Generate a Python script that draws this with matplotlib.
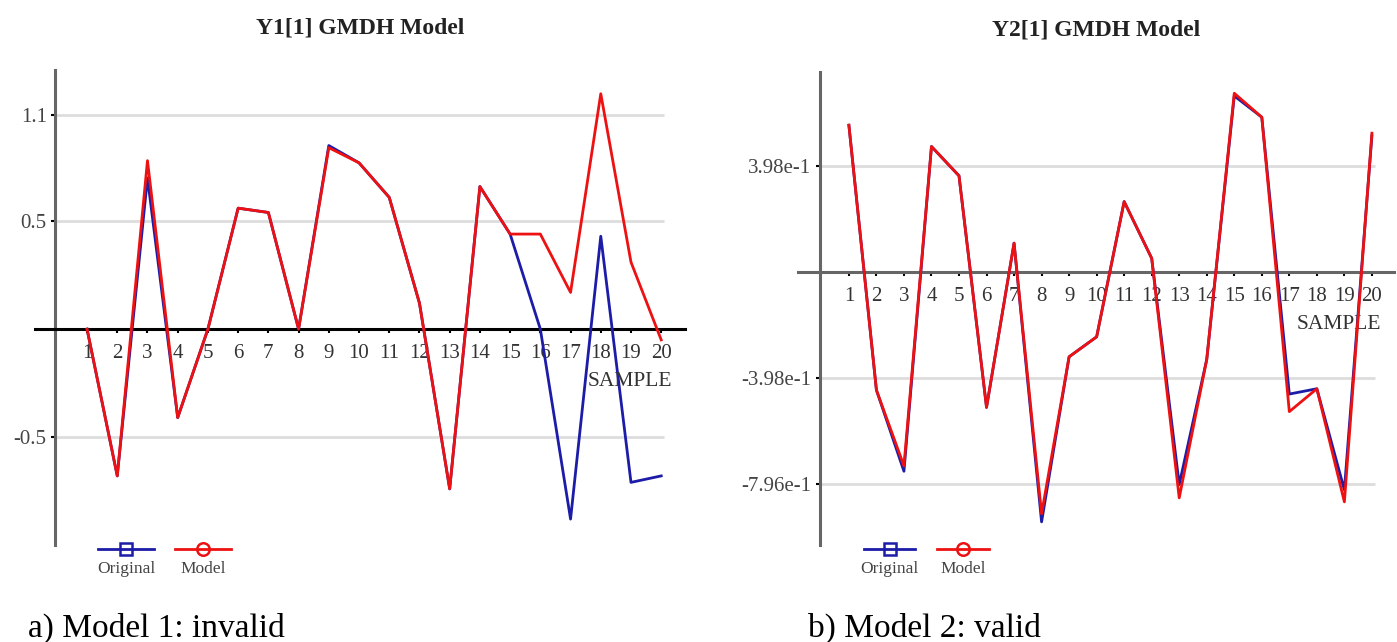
import matplotlib
matplotlib.use('Agg')
import matplotlib.pyplot as plt

plt.rcParams['font.family'] = ['Liberation Serif', 'DejaVu Serif']

samples = list(range(1, 21))

# panel a) Y1[1]
original1 = [0.0, -0.68, 0.70, -0.41, 0.0, 0.56, 0.54, 0.0, 0.85, 0.77,
             0.61, 0.12, -0.74, 0.66, 0.44, 0.0, -0.88, 0.43, -0.71, -0.68]
model1 = [0.0, -0.68, 0.78, -0.41, 0.0, 0.56, 0.54, 0.0, 0.84, 0.77,
          0.61, 0.12, -0.74, 0.66, 0.44, 0.44, 0.17, 1.09, 0.31, -0.05]
yticks1 = [0.99, 0.5, -0.5]
ylabels1 = ['1.1', '0.5', '-0.5']

# panel b) Y2[1]
original2 = [0.55, -0.445, -0.75, 0.47, 0.36, -0.51, 0.107, -0.94, -0.32, -0.245,
             0.263, 0.05, -0.80, -0.33, 0.66, 0.58, -0.46, -0.44, -0.82, 0.51]
model2 = [0.55, -0.445, -0.73, 0.47, 0.36, -0.51, 0.107, -0.91, -0.32, -0.245,
          0.263, 0.05, -0.85, -0.33, 0.67, 0.58, -0.526, -0.44, -0.865, 0.52]
yticks2 = [0.398, -0.398, -0.796]
ylabels2 = ['3.98e-1', '-3.98e-1', '-7.96e-1']

BLUE = '#1c1ca8'
RED = '#ee1111'


def panel(ax, orig, model, yticks, ylabels, title, xlim, ylim, yaxis_x,
          zero_color, leg_x):
    ax.set_xlim(*xlim)
    ax.set_ylim(*ylim)
    for s in ['top', 'right']:
        ax.spines[s].set_visible(False)
    ax.spines['bottom'].set_position(('data', 0))
    ax.spines['bottom'].set_color(zero_color)
    ax.spines['bottom'].set_linewidth(2.2)
    ax.spines['left'].set_position(('data', yaxis_x))
    ax.spines['left'].set_color('#666666')
    ax.spines['left'].set_linewidth(2.2)
    ax.set_facecolor('none')

    ax.hlines(yticks, yaxis_x, 20.1, color='#dddddd', lw=2, zorder=0)

    ax.set_xticks(samples)
    ax.set_xticklabels([str(s) for s in samples])
    ax.set_yticks(yticks)
    ax.set_yticklabels(ylabels)
    ax.tick_params(axis='x', direction='out', length=3, width=1.5, pad=8,
                   labelsize=15, labelcolor='#333333', color='black')
    ax.tick_params(axis='y', direction='out', length=3, width=1.5, pad=3,
                   labelsize=15, labelcolor='#444444', color='black')

    ax.plot(samples, orig, color=BLUE, lw=2.0, zorder=3)
    ax.plot(samples, model, color=RED, lw=2.0, zorder=4)

    ax.annotate('SAMPLE', xy=(20.35, 0), xytext=(0, -38), textcoords='offset points',
                ha='right', va='center', fontsize=15.5, color='#333333')
    ax.set_title(title, fontsize=17, fontweight='bold', color='#222222', pad=26)

    # legend: markers on line, names below
    bx, rx = leg_x
    ax.plot([bx - 0.043, bx + 0.043], [-0.008, -0.008], color=BLUE, lw=2,
            transform=ax.transAxes, clip_on=False)
    ax.plot([bx], [-0.008], marker='s', ms=9, mfc='none', mec=BLUE, mew=1.8,
            transform=ax.transAxes, clip_on=False)
    ax.plot([rx - 0.043, rx + 0.043], [-0.008, -0.008], color=RED, lw=2,
            transform=ax.transAxes, clip_on=False)
    ax.plot([rx], [-0.008], marker='o', ms=9, mfc='none', mec=RED, mew=1.8,
            transform=ax.transAxes, clip_on=False)
    ax.text(bx, -0.05, 'Original', transform=ax.transAxes, ha='center',
            va='center', fontsize=12.5, color='#444444')
    ax.text(rx, -0.05, 'Model', transform=ax.transAxes, ha='center',
            va='center', fontsize=12.5, color='#444444')


def main():
    fig = plt.figure(figsize=(13.97, 6.42), dpi=100)
    ax1 = fig.add_axes([0.0251, 0.1511, 0.4653, 0.7399])
    ax2 = fig.add_axes([0.5712, 0.1511, 0.4266, 0.7368])

    panel(ax1, original1, model1, yticks1, ylabels1, 'Y1[1] GMDH Model',
          (-0.72, 20.79), (-1.0, 1.2), -0.06, 'black', (0.14, 0.258))
    panel(ax2, original2, model2, yticks2, ylabels2, 'Y2[1] GMDH Model',
          (-0.85, 20.8), (-1.027, 0.75), -0.055, '#666666', (0.154, 0.277))

    fig.text(28 / 1397, 1 - 628 / 642, 'a) Model 1: invalid', fontsize=24,
             ha='left', va='center')
    fig.text(808 / 1397, 1 - 628 / 642, 'b) Model 2: valid', fontsize=24,
             ha='left', va='center')

    fig.savefig('out.png', dpi=100)


if __name__ == '__main__':
    main()
